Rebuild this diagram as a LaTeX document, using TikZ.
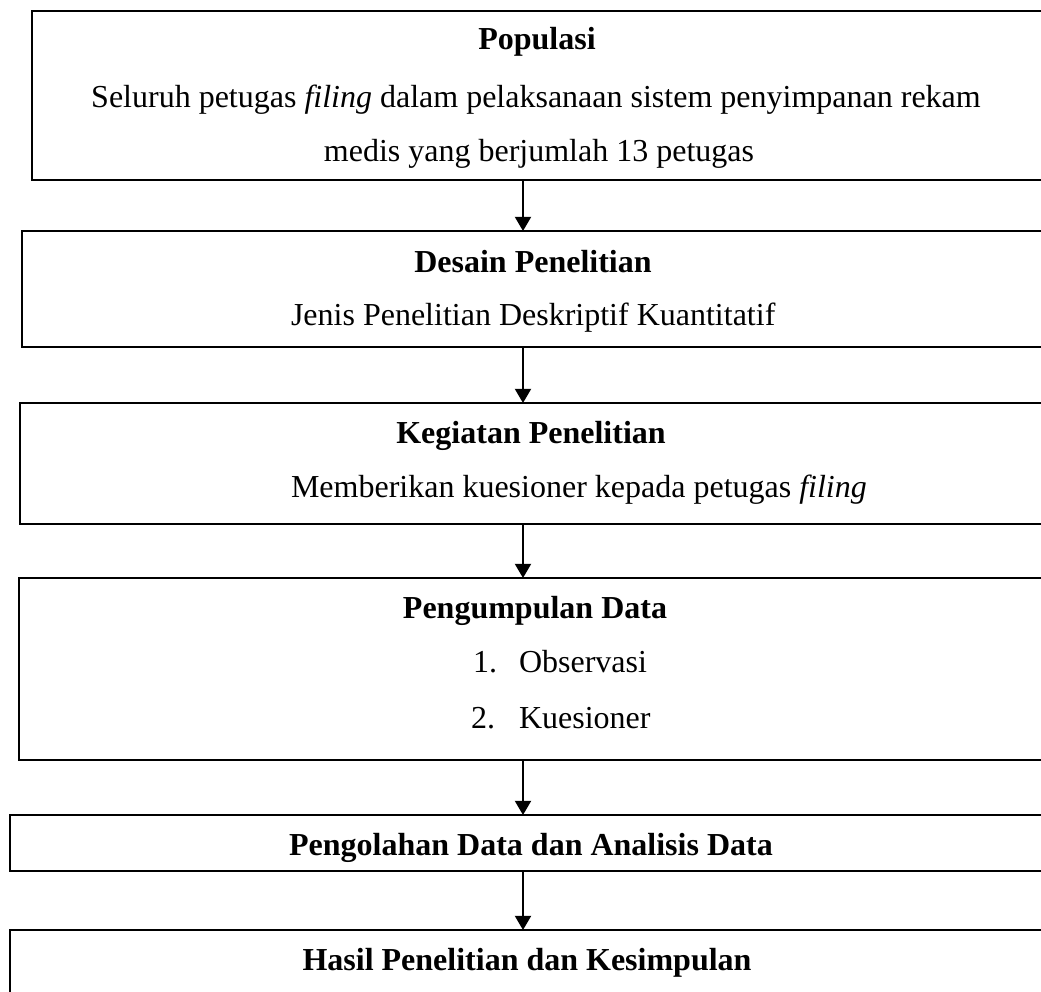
\documentclass[tikz,border=0pt]{standalone}
\usepackage{fontspec}
\setmainfont{Liberation Serif}
\usetikzlibrary{arrows.meta}
\tikzset{
  stepbox/.style={draw=black, line width=0.9pt, rectangle, inner sep=0pt, outer sep=0pt, anchor=north west, fill=none},
  txt/.style={inner sep=0pt, outer sep=0pt, font=\fontsize{12}{14}\selectfont},
  head/.style={txt, font=\fontsize{12}{14}\selectfont\bfseries, anchor=base},
  arr/.style={line width=0.75pt, -{Triangle[width=6pt,length=5.3pt]}}
}
\begin{document}
\begin{tikzpicture}[x=0.375pt, y=-0.375pt]
\useasboundingbox (0,0) rectangle (1041,992);
\clip (0,0) rectangle (1041,992);
\fill[white] (0,0) rectangle (1041,992);
% boxes
\node[stepbox, minimum width=389.25pt, minimum height=63.375pt] (b1) at (32,11) {};
\node[stepbox, minimum width=393pt, minimum height=43.5pt] (b2) at (22,231) {};
\node[stepbox, minimum width=393.75pt, minimum height=45.375pt] (b3) at (20,403) {};
\node[stepbox, minimum width=394.125pt, minimum height=68.25pt] (b4) at (19,578) {};
\node[stepbox, minimum width=397.5pt, minimum height=21pt] (b5) at (10,815) {};
\node[stepbox, minimum width=397.5pt, minimum height=37.5pt] (b6) at (10,930) {};
% texts
\node[head] (t1) at (537,50) {Populasi};
\node[txt, anchor=base] (t1a) at (536,108) {Seluruh petugas \textit{filing} dalam pelaksanaan sistem penyimpanan rekam};
\node[txt, anchor=base] (t1b) at (539,161) {medis yang berjumlah 13 petugas};
\node[head] (t2) at (533,272) {Desain Penelitian};
\node[txt, anchor=base west] (t2a) at (291,325) {Jenis Penelitian Deskriptif Kuantitatif};
\node[head] (t3) at (531,443) {Kegiatan Penelitian};
\node[txt, anchor=base west] (t3a) at (291,497) {Memberikan kuesioner kepada petugas \textit{filing}};
\node[head] (t4) at (535,618) {Pengumpulan Data};
\node[txt, anchor=base west] (n1) at (473,672) {1.};
\node[txt, anchor=base west] (t4a) at (519,672) {Observasi};
\node[txt, anchor=base west] (n2) at (471,728) {2.};
\node[txt, anchor=base west] (t4b) at (519,728) {Kuesioner};
\node[head] (t5) at (531,855) {Pengolahan Data dan Analisis Data};
\node[head] (t6) at (527,970) {Hasil Penelitian dan Kesimpulan};
% connectors
\coordinate (ax) at (523,0);
\draw[arr] (b1.south -| ax) -- (b2.north -| ax);
\draw[arr] (b2.south -| ax) -- (b3.north -| ax);
\draw[arr] (b3.south -| ax) -- (b4.north -| ax);
\draw[arr] (b4.south -| ax) -- (b5.north -| ax);
\draw[arr] (b5.south -| ax) -- (b6.north -| ax);
\end{tikzpicture}
\end{document}
